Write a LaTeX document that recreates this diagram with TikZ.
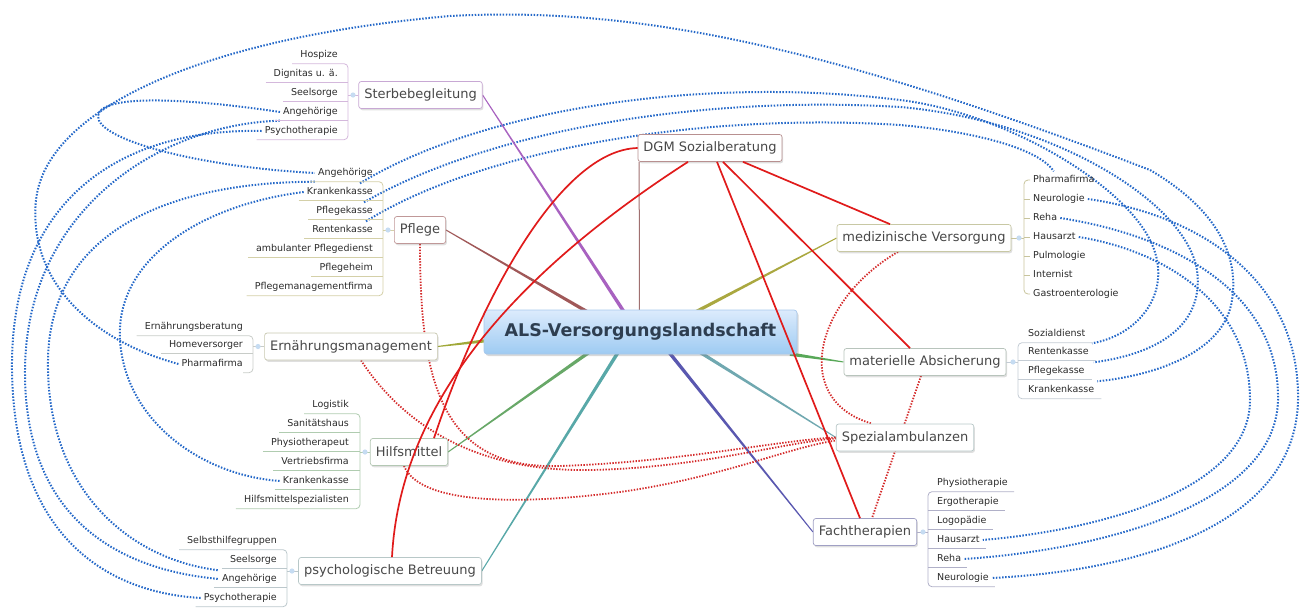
\documentclass[tikz,border=0pt]{standalone}
\usepackage{fontspec}
\setmainfont{DejaVu Sans}
\usetikzlibrary{calc,shadows}
\pgfdeclarelayer{bgblue}
\pgfdeclarelayer{bgred}
\pgfsetlayers{bgblue,bgred,main}

\definecolor{bS}{HTML}{C8A8D4}
\definecolor{bP}{HTML}{C09898}
\definecolor{bD}{HTML}{B89090}
\definecolor{bE}{HTML}{C8C8B0}
\definecolor{bH}{HTML}{B4C8B4}
\definecolor{bY}{HTML}{B8C8C8}
\definecolor{bM}{HTML}{C8C8A4}
\definecolor{bA}{HTML}{B8C4BC}
\definecolor{bZ}{HTML}{B8C8C8}
\definecolor{bF}{HTML}{A0A0C4}
\definecolor{lS}{HTML}{D4B8DC}
\definecolor{lP}{HTML}{D4D0A8}
\definecolor{lE}{HTML}{C8CCC8}
\definecolor{lH}{HTML}{B0CCB0}
\definecolor{lY}{HTML}{BCC8CC}
\definecolor{lM}{HTML}{C8C49C}
\definecolor{lA}{HTML}{C4CCD4}
\definecolor{lF}{HTML}{B0B0C8}
\definecolor{cS}{HTML}{A862C0}
\definecolor{cP}{HTML}{A05858}
\definecolor{cD}{HTML}{A07070}
\definecolor{cM}{HTML}{AAA840}
\definecolor{cE}{HTML}{A0A838}
\definecolor{cA}{HTML}{58A858}
\definecolor{cH}{HTML}{68A868}
\definecolor{cY}{HTML}{58A8A8}
\definecolor{cF}{HTML}{5A58B0}
\definecolor{cZ}{HTML}{70A8B0}
\definecolor{bluec}{HTML}{2468C8}
\definecolor{redd}{HTML}{D42A2A}
\definecolor{reds}{HTML}{E01B1B}
\definecolor{dotc}{HTML}{C6DCF2}
\definecolor{toptxt}{HTML}{484848}
\definecolor{leaftxt}{HTML}{2A2A2A}
\definecolor{centop}{HTML}{DCEBFC}
\definecolor{cenbot}{HTML}{9ECBF2}
\definecolor{cenb}{HTML}{A8C8EC}
\definecolor{centxt}{HTML}{2E3E50}

\newcommand\taper[3]{\fill[#3] ($(#1)!0.5pt!90:(#2)$) -- ($(#2)!1.8pt!-90:(#1)$) -- ($(#2)!1.8pt!90:(#1)$) -- ($(#1)!0.5pt!-90:(#2)$) -- cycle;}

\tikzset{
  topicbox/.style={draw=#1, fill=white, line width=0.7pt, rounded corners=2.5pt,
    font=\fontsize{13}{15}\selectfont, text=toptxt, inner xsep=5.5pt, minimum height=27pt,
    drop shadow={opacity=0.25,shadow xshift=1.2pt,shadow yshift=-1.8pt}},
  centralbox/.style={draw=cenb, line width=0.7pt, rounded corners=3pt, top color=centop, bottom color=cenbot,
    minimum width=313pt, minimum height=44pt, font=\bfseries\fontsize{17.5}{20}\selectfont, text=centxt,
    drop shadow={opacity=0.3,shadow xshift=1.5pt,shadow yshift=-2pt}},
  leafL/.style={anchor=east, font=\fontsize{9.5}{11}\selectfont, text=leaftxt, inner xsep=3pt,
    inner ysep=4pt, text height=7pt, text depth=2pt},
  leafR/.style={leafL, anchor=west},
  treeln/.style={draw=#1, line width=0.8pt},
  bluedot/.style={draw=bluec, line width=2pt, dash pattern=on 1.5pt off 1.6pt},
  reddot/.style={draw=redd, line width=1.8pt, dash pattern=on 1.4pt off 1.5pt},
  redsolid/.style={draw=reds, line width=1.7pt},
}

\begin{document}
\begin{tikzpicture}[x=1pt,y=-1pt]
\useasboundingbox (0,0) rectangle (1307,608);

% ---------------- topics
\node[topicbox=bS] (ster) at (420.5,95) {Sterbebegleitung};
\node[topicbox=bP] (pfl) at (420,230) {Pflege};
\node[topicbox=bD] (dgm) at (710,148) {DGM Sozialberatung};
\node[topicbox=bE] (ern) at (351,346.5) {Ernährungsmanagement};
\node[topicbox=bH] (hilf) at (409,452) {Hilfsmittel};
\node[topicbox=bY] (psy) at (390,571) {psychologische Betreuung};
\node[topicbox=bM] (med) at (924,238) {medizinische Versorgung};
\node[topicbox=bA] (mat) at (925,362) {materielle Absicherung};
\node[topicbox=bZ] (spez) at (905,437.5) {Spezialambulanzen};
\node[topicbox=bF] (fach) at (865,532) {Fachtherapien};
\node[centralbox] (als) at (640.5,332) {ALS-Versorgungslandschaft};

% ---------------- bracket coordinates
\coordinate (brS) at (348,0);
\coordinate (brP) at (383,0);
\coordinate (brE) at (253,0);
\coordinate (brH) at (360,0);
\coordinate (brY) at (287,0);
\coordinate (brM) at (1024,0);
\coordinate (brA) at (1018,0);
\coordinate (brF) at (928,0);

% ---------------- leaves: Sterbebegleitung
\node[leafL] (sA) at (341,55) {Hospize};
\node[leafL] (sB) at (341,74) {Dignitas u. ä.};
\node[leafL] (sC) at (341,93) {Seelsorge};
\node[leafL] (sD) at (341,112) {Angehörige};
\node[leafL] (sE) at (341,131) {Psychotherapie};
\foreach \n in {sB,sC,sD} \draw[treeln=lS] ([xshift=-5pt]\n.south west) -- (\n.south -| brS);
\draw[treeln=lS, rounded corners=4pt] ([xshift=-5pt]sA.south west) -- (sA.south -| brS) -- (sE.south -| brS) -- ([xshift=-5pt]sE.south west);
\draw[treeln=lS] (ster.west) -- (ster.west -| brS);
\fill[dotc] ($(ster.west -| brS)+(5,0)$) circle (2.6pt);

% ---------------- leaves: Pflege
\node[leafL] (pA) at (376,173) {Angehörige};
\node[leafL] (pB) at (376,192) {Krankenkasse};
\node[leafL] (pC) at (376,211) {Pflegekasse};
\node[leafL] (pD) at (376,230) {Rentenkasse};
\node[leafL] (pE) at (376,249) {ambulanter Pflegedienst};
\node[leafL] (pF) at (376,268) {Pflegeheim};
\node[leafL] (pG) at (376,287) {Pflegemanagementfirma};
\foreach \n in {pB,pC,pD,pE,pF} \draw[treeln=lP] ([xshift=-5pt]\n.south west) -- (\n.south -| brP);
\draw[treeln=lP, rounded corners=4pt] ([xshift=-5pt]pA.south west) -- (pA.south -| brP) -- (pG.south -| brP) -- ([xshift=-5pt]pG.south west);
\draw[treeln=lP] (pfl.west) -- (pfl.west -| brP);
\fill[dotc] ($(pfl.west -| brP)+(5,0)$) circle (2.6pt);

% ---------------- leaves: Ernaehrung
\node[leafL] (eA) at (246,327) {Ernährungsberatung};
\node[leafL] (eB) at (246,345) {Homeversorger};
\node[leafL] (eC) at (246,364) {Pharmafirma};
\draw[treeln=lE] ([xshift=-5pt]eB.south west) -- (eB.south -| brE);
\draw[treeln=lE, rounded corners=4pt] ([xshift=-5pt]eA.south west) -- (eA.south -| brE) -- (eC.south -| brE) -- ([xshift=-3pt]eC.south east);
\draw[treeln=lE] (ern.west) -- (ern.west -| brE);
\fill[dotc] ($(ern.west -| brE)+(5,0)$) circle (2.6pt);

% ---------------- leaves: Hilfsmittel
\node[leafL] (hA) at (352,405) {Logistik};
\node[leafL] (hB) at (352,424) {Sanitätshaus};
\node[leafL] (hC) at (352,443) {Physiotherapeut};
\node[leafL] (hD) at (352,462) {Vertriebsfirma};
\node[leafL] (hE) at (352,481) {Krankenkasse};
\node[leafL] (hF) at (352,500) {Hilfsmittelspezialisten};
\foreach \n in {hB,hC,hD,hE} \draw[treeln=lH] ([xshift=-5pt]\n.south west) -- (\n.south -| brH);
\draw[treeln=lH, rounded corners=4pt] ([xshift=-5pt]hA.south west) -- (hA.south -| brH) -- (hF.south -| brH) -- ([xshift=-5pt]hF.south west);
\draw[treeln=lH] (hilf.west) -- (hilf.west -| brH);
\fill[dotc] ($(hilf.west -| brH)+(5,0)$) circle (2.6pt);

% ---------------- leaves: psychologische Betreuung
\node[leafL] (yA) at (280,541) {Selbsthilfegruppen};
\node[leafL] (yB) at (280,560) {Seelsorge};
\node[leafL] (yC) at (280,579) {Angehörige};
\node[leafL] (yD) at (280,598) {Psychotherapie};
\foreach \n in {yB,yC} \draw[treeln=lY] ([xshift=-5pt]\n.south west) -- (\n.south -| brY);
\draw[treeln=lY, rounded corners=4pt] ([xshift=-5pt]yA.south west) -- (yA.south -| brY) -- (yD.south -| brY) -- ([xshift=-5pt]yD.south west);
\draw[treeln=lY] (psy.west) -- (psy.west -| brY);
\fill[dotc] ($(psy.west -| brY)+(5,0)$) circle (2.6pt);

% ---------------- leaves: medizinische Versorgung
\node[leafR] (dA) at (1030,180) {Pharmafirma};
\node[leafR] (dB) at (1030,199) {Neurologie};
\node[leafR] (dC) at (1030,218) {Reha};
\node[leafR] (dD) at (1030,237) {Hausarzt};
\node[leafR] (dE) at (1030,256) {Pulmologie};
\node[leafR] (dF) at (1030,275) {Internist};
\node[leafR] (dG) at (1030,294) {Gastroenterologie};
\foreach \n in {dB,dC,dD,dE,dF} \draw[treeln=lM] (\n.west -| brM) -- (\n.west);
\draw[treeln=lM, rounded corners=4pt] (dA.west) -- (dA.west -| brM) -- (dG.west -| brM) -- (dG.west);
\draw[treeln=lM] (med.east) -- (med.east -| brM);
\fill[dotc] ($(med.east -| brM)+(-5,0)$) circle (2.6pt);

% ---------------- leaves: materielle Absicherung
\node[leafR] (mA) at (1025,334) {Sozialdienst};
\node[leafR] (mB) at (1025,352) {Rentenkasse};
\node[leafR] (mC) at (1025,371) {Pflegekasse};
\node[leafR] (mD) at (1025,390) {Krankenkasse};
\foreach \n in {mB,mC} \draw[treeln=lA] (\n.south -| brA) -- ([xshift=4pt]\n.south east);
\draw[treeln=lA, rounded corners=4pt] ([xshift=4pt]mA.south east) -- (mA.south -| brA) -- (mD.south -| brA) -- ([xshift=4pt]mD.south east);
\draw[treeln=lA] (mat.east) -- (mat.east -| brA);
\fill[dotc] ($(mat.east -| brA)+(-5,0)$) circle (2.6pt);

% ---------------- leaves: Fachtherapien
\node[leafR] (fA) at (934,483) {Physiotherapie};
\node[leafR] (fB) at (934,502) {Ergotherapie};
\node[leafR] (fC) at (934,521) {Logopädie};
\node[leafR] (fD) at (934,540) {Hausarzt};
\node[leafR] (fE) at (934,559) {Reha};
\node[leafR] (fF) at (934,578) {Neurologie};
\foreach \n in {fB,fC,fD,fE} \draw[treeln=lF] (\n.south -| brF) -- ([xshift=3pt]\n.south east);
\draw[treeln=lF, rounded corners=4pt] ([xshift=3pt]fA.south east) -- (fA.south -| brF) -- (fF.south -| brF) -- ([xshift=3pt]fF.south east);
\draw[treeln=lF] (fach.east) -- (fach.east -| brF);
\fill[dotc] ($(fach.east -| brF)+(-5,0)$) circle (2.6pt);

% ---------------- centre attachment points
\coordinate (kS) at (628,318);
\coordinate (kP) at (598,318);
\coordinate (kD) at (639.5,318);
\coordinate (kM) at (684,318);
\coordinate (kE) at (492,340);
\coordinate (kA) at (790,354);
\coordinate (kH) at (598,346);
\coordinate (kY) at (622,346);
\coordinate (kF) at (664,346);
\coordinate (kZ) at (690,346);

\begin{pgfonlayer}{bgred}
\taper{ster.east}{kS}{cS}
\taper{pfl.east}{kP}{cP}
\taper{med.west}{kM}{cM}
\taper{ern.east}{kE}{cE}
\taper{mat.west}{kA}{cA}
\taper{hilf.east}{kH}{cH}
\taper{psy.east}{kY}{cY}
\taper{fach.west}{kF}{cF}
\taper{spez.west}{kZ}{cZ}
\draw[cD, line width=1pt] ([xshift=1.5pt]dgm.south west) -- (kD);
% red dotted relations
\draw[reddot] (pfl.south) .. controls (420,380) and (440,470) .. (560,466) .. controls (680,462) and (780,440) .. (spez.west);
\draw[reddot] ([xshift=10pt]ern.south) .. controls (400,420) and (470,472) .. (590,470) .. controls (700,468) and (785,442) .. ([yshift=-1pt]spez.west);
\draw[reddot] ([xshift=-5pt]hilf.south) .. controls (420,505) and (520,505) .. (620,492) .. controls (720,478) and (790,447) .. ([yshift=-3pt]spez.west);
\draw[reddot] ([xshift=-26pt]med.south) .. controls (815,300) and (790,400) .. ([xshift=-33pt]spez.north);
\draw[reddot] ([xshift=-4pt]mat.south) -- ([xshift=7pt]fach.north);
\end{pgfonlayer}

\begin{pgfonlayer}{bgblue}
% top arc: Ernaehrung Pharmafirma -> materielle Absicherung
\draw[bluedot] (eC.west) .. controls (90,340) and (28,280) .. (36,200) .. controls (46,110) and (200,38) .. (450,16) .. controls (650,5) and (850,55) .. (1150,170) .. controls (1210,205) and (1240,250) .. (1232,300) .. controls (1225,350) and (1160,375) .. (mD.north east);
% Angehoerige loop Sterbe - Pflege
\draw[bluedot] (sD.west) .. controls (200,100) and (100,92) .. (98,116) .. controls (97,140) and (200,167) .. (pA.west);
% Angehoerige Sterbe - psych
\draw[bluedot] (sD.south west) .. controls (160,124) and (26,210) .. (25,370) .. controls (24,520) and (120,570) .. (yC.west);
% Psychotherapie
\draw[bluedot] (sE.west) .. controls (120,128) and (10,200) .. (12,370) .. controls (14,530) and (100,592) .. (yD.west);
% Angehoerige Pflege - psych
\draw[bluedot] (pA.south west) .. controls (180,182) and (50,225) .. (48,360) .. controls (46,490) and (130,560) .. (yC.north west);
% Krankenkasse Pflege - Hilfsmittel
\draw[bluedot] (pB.west) .. controls (200,205) and (115,260) .. (120,340) .. controls (125,420) and (200,475) .. (hE.west);
% Pflege -> right side
\draw[bluedot] ([xshift=-16pt]pB.north east) .. controls (480,110) and (700,75) .. (900,100) .. controls (1000,112) and (1120,180) .. (1150,240) .. controls (1175,290) and (1140,335) .. (mB.north east);
\draw[bluedot] ([xshift=-12pt]pC.north east) .. controls (490,130) and (700,95) .. (900,107) .. controls (1050,120) and (1185,200) .. (1197,270) .. controls (1205,330) and (1150,355) .. ([xshift=6pt]mC.north east);
\draw[bluedot] ([xshift=-10pt]pD.north east) .. controls (480,150) and (700,112) .. (900,125) .. controls (980,132) and (1040,150) .. ([xshift=-10pt]dA.north);
% medizinische Versorgung -> Fachtherapien
\draw[bluedot] (dB.east) .. controls (1200,215) and (1300,280) .. (1298,400) .. controls (1296,520) and (1150,570) .. (fF.east);
\draw[bluedot] (dC.east) .. controls (1170,235) and (1280,290) .. (1278,400) .. controls (1276,505) and (1100,550) .. (fE.east);
\draw[bluedot] (dD.east) .. controls (1160,250) and (1250,300) .. (1250,400) .. controls (1250,490) and (1100,530) .. (fD.east);
\end{pgfonlayer}

% ---------------- red solid relations from DGM Sozialberatung
\draw[redsolid] (dgm.west) .. controls (560,150) and (480,300) .. ([xshift=25pt]hilf.north);
\draw[redsolid] ([xshift=-22pt]dgm.south) .. controls (520,270) and (400,400) .. ([xshift=2pt]psy.north);
\draw[redsolid] ([xshift=33pt]dgm.south) -- ([xshift=-34pt]med.north);
\draw[redsolid] ([xshift=13pt]dgm.south) -- ([xshift=-15pt]mat.north);
\draw[redsolid] ([xshift=7pt]dgm.south) -- ([xshift=-5pt]fach.north);
\end{tikzpicture}
\end{document}
